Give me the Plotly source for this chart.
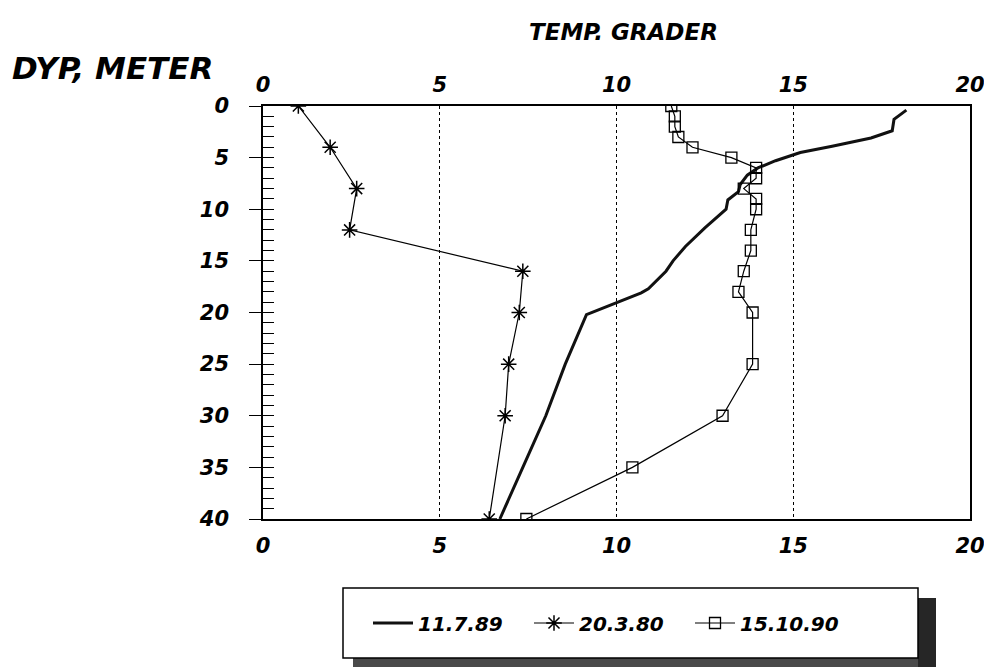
import plotly.graph_objects as go

# 11.7.89 - kontinuerlig profil (tykk linje)
dyp_1989 = [0.4, 1.3, 2.4, 3.1, 3.9, 4.5, 5.3, 6.0, 6.7, 7.6, 8.3, 9.1, 10.0,
            11.8, 13.6, 15.0, 16.0, 17.7, 18.1, 20.2, 25.0, 30.0, 35.0, 40.0]
temp_1989 = [18.2, 17.85, 17.8, 17.2, 16.1, 15.2, 14.5, 14.0, 13.7, 13.5, 13.45, 13.15, 13.1,
             12.5, 11.95, 11.6, 11.4, 10.9, 10.7, 9.15, 8.55, 8.0, 7.35, 6.7]

# 20.3.80 - stjerner
dyp_1980 = [0, 4, 8, 12, 16, 20, 25, 30, 40]
temp_1980 = [1.0, 1.9, 2.65, 2.45, 7.35, 7.25, 6.95, 6.85, 6.4]

# 15.10.90 - firkanter
dyp_1990 = [0, 1, 2, 3, 4, 5, 6, 7, 8, 9, 10, 12, 14, 16, 18, 20, 25, 30, 35, 40]
temp_1990 = [11.55, 11.65, 11.65, 11.75, 12.15, 13.25, 13.95, 13.95, 13.6, 13.95, 13.95,
             13.8, 13.8, 13.6, 13.45, 13.85, 13.85, 13.0, 10.45, 7.45]

x_ticks = [0, 5, 10, 15, 20]
y_ticks = [0, 5, 10, 15, 20, 25, 30, 35, 40]

FONT = dict(family="DejaVu Sans", weight="bold", style="italic", color="black")

# plottområdet i skjermpiksler: x 263..970, y 106..519
PX0, PX1, PY0, PY1 = 263, 970, 106, 519


def px(x):
    return (x - PX0) / (PX1 - PX0)


def py(y):
    return (PY1 - y) / (PY1 - PY0)


fig = go.Figure()
fig.add_trace(go.Scatter(x=temp_1989, y=dyp_1989, mode="lines", name="11.7.89",
                         line=dict(color="#111", width=3)))
fig.add_trace(go.Scatter(x=temp_1980, y=dyp_1980, mode="lines+markers", name="20.3.80",
                         line=dict(color="black", width=1.2),
                         marker=dict(symbol="asterisk-open", size=13,
                                     line=dict(color="black", width=1.5))))
fig.add_trace(go.Scatter(x=temp_1990, y=dyp_1990, mode="lines+markers", name="15.10.90",
                         line=dict(color="black", width=1.2),
                         marker=dict(symbol="square-open", size=11, color="black",
                                     line=dict(color="black", width=1.3))))
# usynlig spor for toppakse og indre tikker
fig.add_trace(go.Scatter(x=[None], y=[None], xaxis="x2", yaxis="y2",
                         showlegend=False, hoverinfo="skip"))

# siden har 8 px marg rundt figuren
fig.update_layout(
    width=992, height=667,
    margin=dict(l=PX0 - 8, r=992 - (PX1 - 8), t=PY0 - 8, b=667 - (PY1 - 8)),
    paper_bgcolor="white", plot_bgcolor="white",
    showlegend=True,
    xaxis=dict(range=[0, 20], tickvals=x_ticks, showgrid=True, gridcolor="black",
               griddash="dot", gridwidth=1, showline=True, linecolor="black",
               linewidth=1.5, mirror=True, ticks="", zeroline=False,
               tickfont=dict(size=21, **FONT), ticklabelstandoff=7),
    xaxis2=dict(range=[0, 20], tickvals=x_ticks, overlaying="x", side="top",
                anchor="y2", showgrid=False, showline=False, ticks="", zeroline=False,
                tickfont=dict(size=21, **FONT), ticklabelstandoff=9),
    yaxis=dict(range=[40, 0], tickvals=y_ticks, showgrid=False, showline=True,
               linecolor="black", linewidth=1.5, mirror=True, ticks="outside",
               ticklen=12, tickwidth=1.3, tickcolor="black", zeroline=False,
               tickfont=dict(size=21, **FONT), ticklabelstandoff=16),
    yaxis2=dict(range=[40, 0], dtick=1, tick0=0, overlaying="y", side="left",
                anchor="x", showgrid=False, showline=False, ticks="inside",
                ticklen=11, tickwidth=1.3, tickcolor="black", showticklabels=False,
                zeroline=False),
    legend=dict(orientation="h", x=px(368), xanchor="left", y=py(623), yanchor="middle",
                bgcolor="rgba(0,0,0,0)", borderwidth=0,
                font=dict(size=20, **FONT), itemwidth=40, entrywidth=106),
)

# legendeboks med skygge
fig.add_shape(type="rect", xref="paper", yref="paper",
              x0=px(353), x1=px(936), y0=py(690), y1=py(598),
              fillcolor="#4a4a4a", line=dict(width=0), layer="above")
fig.add_shape(type="rect", xref="paper", yref="paper",
              x0=px(918), x1=px(936), y0=py(690), y1=py(598),
              fillcolor="#262626", line=dict(width=0), layer="above")
fig.add_shape(type="rect", xref="paper", yref="paper",
              x0=px(343), x1=px(918), y0=py(658), y1=py(588),
              fillcolor="white", line=dict(color="black", width=1.5), layer="above")

fig.add_annotation(text="DYP, METER", xref="paper", yref="paper",
                   x=px(10), y=py(68), xanchor="left", yanchor="middle",
                   showarrow=False, font=dict(size=31, **FONT))
fig.add_annotation(text="TEMP. GRADER", xref="paper", yref="paper",
                   x=px(623), y=py(32), xanchor="center", yanchor="middle",
                   showarrow=False, font=dict(size=23, **FONT))

fig.write_html("out.html")
